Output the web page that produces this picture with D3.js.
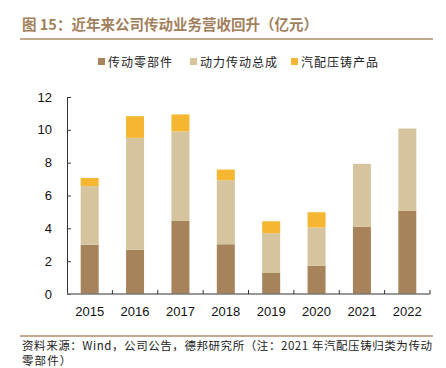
<!DOCTYPE html>
<html><head><meta charset="utf-8">
<script src="https://cdn.jsdelivr.net/npm/d3@7"></script>
<style>body{margin:0;background:#fff}svg{display:block}</style>
</head><body>
<script>
const categories = ["2015","2016","2017","2018","2019","2020","2021","2022"];
const seriesNames = ["传动零部件","动力传动总成","汽配压铸产品"];
const parts = [3.0, 2.7, 4.45, 3.03, 1.28, 1.71, 4.09, 5.06];
const powertrain = [3.57, 6.81, 5.45, 3.9, 2.42, 2.34, 3.84, 5.02];
const dieCast = [0.5, 1.32, 1.04, 0.65, 0.73, 0.93, 0, 0];
const yTicks = [0, 2, 4, 6, 8, 10, 12];
const colors = ["#a6835b", "#d5c49d", "#f5b731"];

const W = 446, H = 368;
const svg = d3.select("body").append("svg").attr("width", W).attr("height", H);
const font = "'Liberation Sans', Arial, sans-serif";
const cjk = "'Noto Sans CJK SC', sans-serif";

// title
svg.append("text").attr("x", 22).attr("y", 30).attr("fill", "#a27f5c")
  .attr("font-family", cjk).attr("font-weight", "bold").attr("font-size", 14.5)
  .text("图 15：近年来公司传动业务营收回升（亿元）");
svg.append("line").attr("x1", 20).attr("x2", 433).attr("y1", 39).attr("y2", 39)
  .attr("stroke", "#b08d6b").attr("stroke-width", 1.5);

const xb = d3.scaleBand().domain(categories).range([67, 430]);
const y = d3.scaleLinear().domain([0, 12]).range([294, 97]);

const rows = categories.map((c, i) => ({cat: c, s0: parts[i], s1: powertrain[i], s2: dieCast[i]}));
const stack = d3.stack().keys(["s0", "s1", "s2"])(rows);

const g = svg.append("g");
stack.forEach((layer, k) => {
  g.selectAll(null).data(layer.filter(d => d[1] - d[0] > 0)).enter().append("rect")
    .attr("x", d => xb(d.data.cat) + xb.bandwidth() / 2 - 9)
    .attr("width", 18)
    .attr("y", d => y(d[1]))
    .attr("height", d => y(d[0]) - y(d[1]))
    .attr("fill", colors[k]);
});

// y axis
const ya = svg.append("g").attr("transform", "translate(67,0)")
  .call(d3.axisRight(y).tickValues(yTicks).tickSize(4).tickFormat(""));
ya.select(".domain").attr("stroke", "#333");
ya.selectAll(".tick line").attr("stroke", "#333");
svg.append("g").selectAll("text").data(yTicks).enter().append("text")
  .attr("x", 52).attr("y", d => y(d) + 4.5).attr("text-anchor", "end")
  .attr("font-family", font).attr("font-size", 13).attr("fill", "#111").text(d => d);

// x axis
const xa = svg.append("g").attr("transform", "translate(0,294)");
xa.append("line").attr("x1", 67).attr("x2", 430).attr("stroke", "#777").attr("stroke-width", 1.5);
xa.selectAll("line.t").data(categories).enter().append("line").attr("class", "t")
  .attr("x1", d => xb(d) + xb.bandwidth()).attr("x2", d => xb(d) + xb.bandwidth())
  .attr("y1", 0).attr("y2", -4).attr("stroke", "#333");
xa.selectAll("text").data(categories).enter().append("text")
  .attr("x", d => xb(d) + xb.bandwidth() / 2).attr("y", 22).attr("text-anchor", "middle")
  .attr("font-family", font).attr("font-size", 13).attr("fill", "#111").text(d => d);

// legend
const legX = [98, 190, 291];
seriesNames.forEach((n, i) => {
  svg.append("rect").attr("x", legX[i]).attr("y", 58).attr("width", 7).attr("height", 7).attr("fill", colors[i]);
  svg.append("text").attr("x", legX[i] + 10).attr("y", 66.5).attr("font-family", cjk)
    .attr("font-size", 12).attr("letter-spacing", 1).attr("fill", "#222").text(n);
});

// footer
svg.append("line").attr("x1", 20).attr("x2", 433).attr("y1", 336).attr("y2", 336)
  .attr("stroke", "#b08d6b").attr("stroke-width", 1.5);
svg.append("text").attr("x", 22).attr("y", 350).attr("font-family", cjk).attr("font-size", 11.5).attr("fill", "#222")
  .attr("textLength", 410).attr("lengthAdjust", "spacing")
  .text("资料来源：Wind，公司公告，德邦研究所（注：2021 年汽配压铸归类为传动");
svg.append("text").attr("x", 22).attr("y", 365).attr("font-family", cjk).attr("font-size", 11.5).attr("fill", "#222")
  .attr("letter-spacing", 1.1)
  .text("零部件）");
</script>
</body></html>
